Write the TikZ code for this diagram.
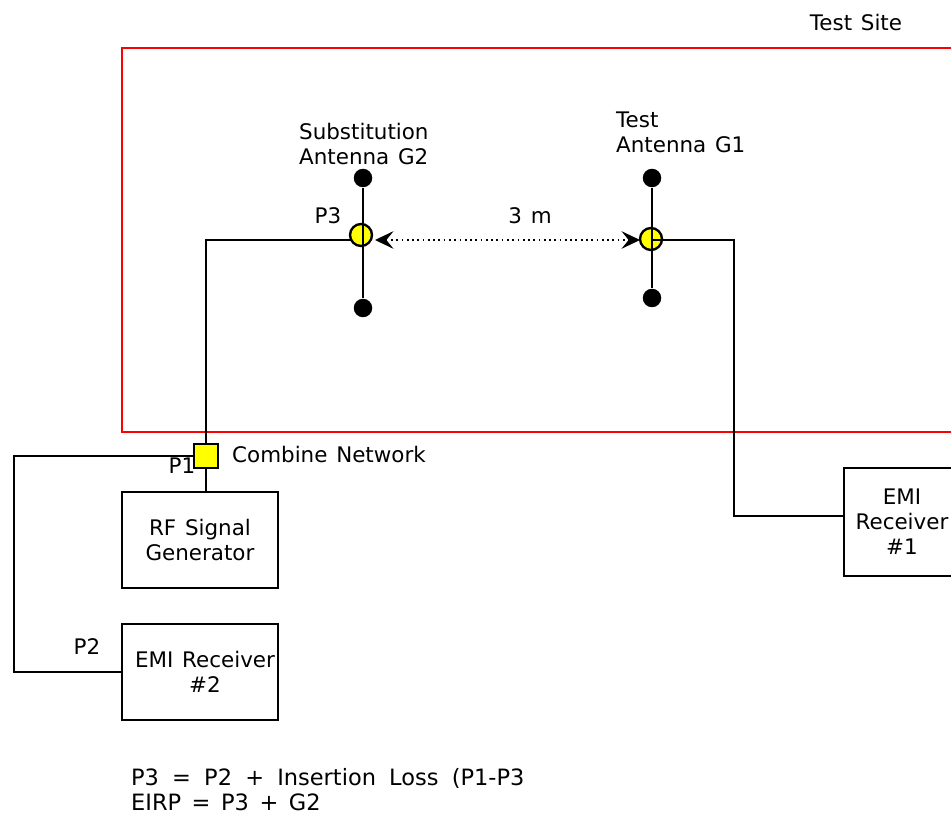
\documentclass[tikz,border=0pt]{standalone}
\usepackage{xcolor}
\usepackage{fontspec}
\setmainfont{DejaVu Sans}
\usetikzlibrary{arrows.meta}
\definecolor{portyellow}{RGB}{255,255,0}
\definecolor{sitered}{RGB}{255,0,0}
\newcommand{\labelfont}{\fontsize{12.2}{14.2}\selectfont\spaceskip 5pt\relax}
\newcommand{\formulafont}{\fontsize{12.8}{14.2}\selectfont\spaceskip 7.5pt\relax}

\begin{document}
\begin{tikzpicture}[x=0.02cm, y=-0.02cm, line width=1.35pt,
  >={Stealth[length=10.5pt, width=10pt, inset=4pt]},
  every node/.style={font=\labelfont, inner sep=0pt, text=black},
  boxnode/.style={draw, align=center, minimum width=3.12cm},
  dotnode/.style={circle, fill=black, minimum size=0.37cm},
  portnode/.style={circle, draw, fill=portyellow, minimum size=0.44cm}]
  \useasboundingbox (0,0) rectangle (951,814);
  \clip (0,0) rectangle (951,814);
  % test site frame runs off the right edge
  \node[draw=sitered, minimum width=16.76cm, minimum height=7.68cm] (testsite) at (541,240) {};
  \node (testsitelabel) at (856,23) {Test Site};

  \coordinate (feedleft) at (363,240);
  \coordinate (feedright) at (652,240);
  \coordinate (cornerright) at (734,516);
  \coordinate (cornertop) at (14,456);
  \coordinate (cornerbottom) at (14,672);
  \coordinate (tipleft) at (375,240);
  \coordinate (tipright) at (640,240);

  \node[boxnode, minimum height=1.92cm] (generator) at (200,540) {RF Signal\\Generator};
  \node[boxnode, minimum height=1.92cm] (receivertwo) at (200,672) {\hspace*{5.7pt}EMI Receiver\\\hspace*{5.7pt}\#2};
  \node[boxnode, minimum width=2.32cm, minimum height=2.16cm] (receiverone) at (902,522) {EMI\\Receiver\\\#1};

  \node (pone) at (182,466) {P1};
  \node (ptwo) at (87,647) {P2};
  \node (pthree) at (328,216) {P3};

  \node[draw, fill=portyellow, minimum size=0.48cm] (combiner) at (206,456) {};
  \node[anchor=west] (combinerlabel) at (231,455) {Combine Network};

  % wiring
  \draw (combiner.north) |- (feedleft);
  \draw (combiner.south) -- (combiner.south |- generator.north);
  \draw (combiner.west) -- (cornertop) -- (cornerbottom) -- (receivertwo.west);
  \draw (feedright) -| (cornerright) -- (cornerright -| receiverone.west);

  % substitution antenna
  \node[portnode] (portsub) at (361,235) {};
  \node[dotnode] (subtop) at (363,178) {};
  \node[dotnode] (subbottom) at (363,308) {};
  \draw (subtop) -- (subbottom);
  \node[anchor=west, align=left] (sublabel) at (298,144) {Substitution\\Antenna G2};

  % test antenna
  \node[portnode] (porttest) at (651,239) {};
  \node[dotnode] (testtop) at (652,178) {};
  \node[dotnode] (testbottom) at (652,298) {};
  \draw (testtop) -- (testbottom);
  \draw (feedright) -- (porttest.east |- feedright);
  \node[anchor=west, align=left] (testlabel) at (615,132) {Test\\Antenna G1};

  \draw[<->, dotted, line width=1pt] (tipleft) -- (tipright);
  \node (distance) at (530,216) {3 m};

  \node[anchor=west, align=left, font=\formulafont] (formula) at (130,790) {P3 = P2 + Insertion Loss (P1-P3\\{\spaceskip 6pt EIRP = P3 + G2}};
\end{tikzpicture}
\end{document}
